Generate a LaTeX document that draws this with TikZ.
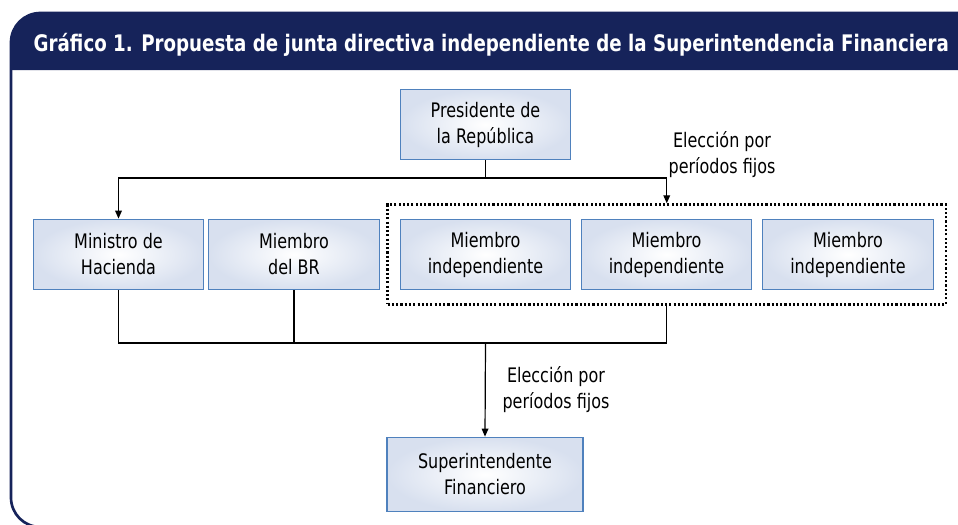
\documentclass[tikz,border=0pt]{standalone}
\usepackage{fontspec}
\setmainfont{DejaVu Sans}[FakeStretch=0.8]
\usetikzlibrary{positioning,arrows.meta,fit}
\definecolor{navy}{HTML}{16235A}
\definecolor{boxline}{HTML}{4F81BD}
\definecolor{boxfill}{HTML}{D8E0EF}
\tikzstyle{arrow} = [line width=0.9pt,-{Triangle[length=6pt,width=5pt]}]
\tikzstyle{line} = [line width=0.9pt]
\tikzstyle{box} = [draw=boxline, line width=0.8pt, inner color=white, outer color=boxfill,
  minimum width=128pt, minimum height=53pt, align=center, font=\fontsize{15}{19.5}\selectfont]

\begin{document}
\begin{tikzpicture}[x=0.75pt,y=-0.75pt]
			\useasboundingbox (0,0) rectangle (958,525);
			\clip (0,0) rectangle (958,525);
			% frame and title
			\fill[navy] (11,70) [rounded corners=22] -- (11,13) -- (1000,13) [sharp corners] -- (1000,70) -- cycle;
			\draw[navy, line width=2pt, rounded corners=22] (11,13) rectangle (1000,527);
			\node[anchor=west, text=white, font=\fontsize{17.1}{18}\bfseries\selectfont] (title) at (29,45)
				{Gráfico 1. Propuesta de junta directiva independiente de la Superintendencia Financiera};
			% boxes
			\node[box] (pres) at (485.5,124.5) {Presidente de\\la República};
			\node[box] (min) at (118.5,254.5) {Ministro de\\Hacienda};
			\node[box] (br) at (294,254.5) {Miembro\\del BR};
			\node[box] (ind1) at (485.5,254.5) {Miembro\\independiente};
			\node[box] (ind2) at (666.5,254.5) {Miembro\\independiente};
			\node[box] (ind3) at (848,254.5) {Miembro\\independiente};
			\node[box, minimum width=147pt, minimum height=56pt] (sup) at (485,474.5) {Superintendente\\Financiero};
			\node[draw, line width=2pt, dash pattern=on 1.6pt off 1.6pt, inner xsep=9pt, inner ysep=10.5pt,
				fit=(ind1)(ind3)] (grp) {};
			% connectors
			\coordinate (split) at (485.5,178);
			\coordinate (join) at (485.5,343);
			\draw[line] (pres.south) -- (split);
			\draw[arrow] (split) -| (min.north);
			\draw[arrow] (split) -| (grp.north);
			\draw[line] (min.south) |- (join) -| (grp.south);
			\draw[line] (br.south) -- (br.south |- join);
			\draw[arrow] (join) -- (sup.north);
			% labels
			\node[align=center, font=\fontsize{15}{19.5}\selectfont] (lbla) at (722,155) {Elección por\\períodos fijos};
			\node[align=center, font=\fontsize{15}{19.5}\selectfont] (lblb) at (556,390) {Elección por\\períodos fijos};
		\end{tikzpicture}
\end{document}
